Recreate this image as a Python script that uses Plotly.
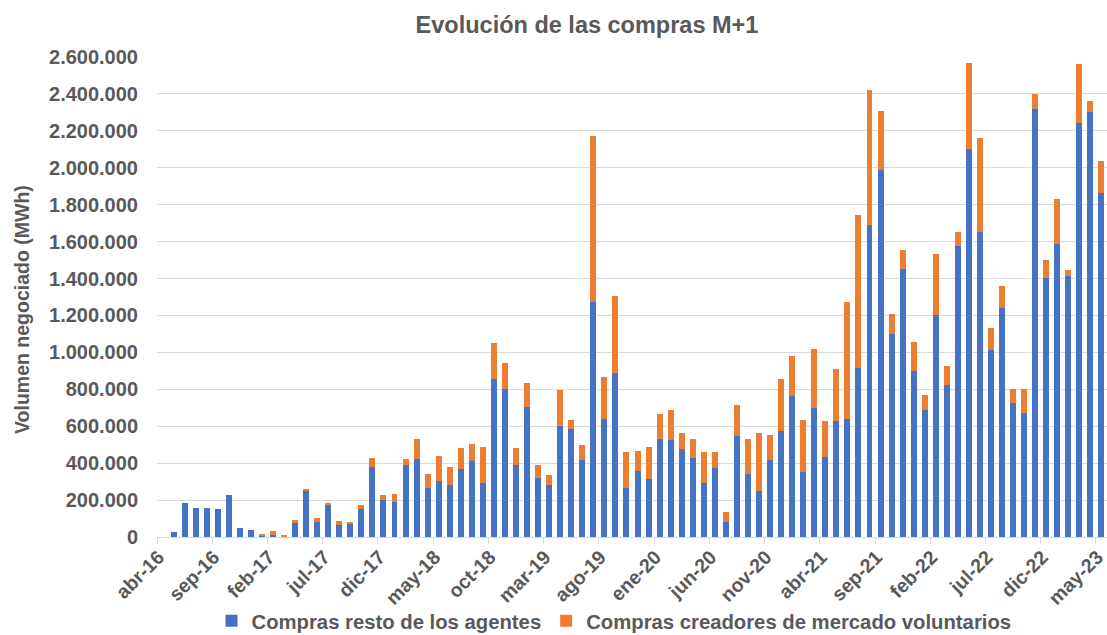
import plotly.graph_objects as go

categories = [
    "abr-16", "may-16", "jun-16", "jul-16", "ago-16", "sep-16", "oct-16", "nov-16", "dic-16",
    "ene-17", "feb-17", "mar-17", "abr-17", "may-17", "jun-17", "jul-17", "ago-17", "sep-17", "oct-17", "nov-17", "dic-17",
    "ene-18", "feb-18", "mar-18", "abr-18", "may-18", "jun-18", "jul-18", "ago-18", "sep-18", "oct-18", "nov-18", "dic-18",
    "ene-19", "feb-19", "mar-19", "abr-19", "may-19", "jun-19", "jul-19", "ago-19", "sep-19", "oct-19", "nov-19", "dic-19",
    "ene-20", "feb-20", "mar-20", "abr-20", "may-20", "jun-20", "jul-20", "ago-20", "sep-20", "oct-20", "nov-20", "dic-20",
    "ene-21", "feb-21", "mar-21", "abr-21", "may-21", "jun-21", "jul-21", "ago-21", "sep-21", "oct-21", "nov-21", "dic-21",
    "ene-22", "feb-22", "mar-22", "abr-22", "may-22", "jun-22", "jul-22", "ago-22", "sep-22", "oct-22", "nov-22", "dic-22",
    "ene-23", "feb-23", "mar-23", "abr-23", "may-23",
]

resto_agentes = [
    0, 29000, 182000, 159000, 155000, 152000, 229000, 51000, 38000,
    9000, 13000, 0, 74000, 253000, 80000, 177000, 67000, 74000, 150000, 378000, 199000,
    192000, 390000, 425000, 266000, 304000, 280000, 370000, 410000, 293000, 855000, 800000, 388000,
    705000, 322000, 280000, 600000, 584000, 419000, 1272000, 639000, 886000, 267000, 355000, 312000,
    529000, 524000, 475000, 426000, 293000, 374000, 79000, 546000, 340000, 251000, 416000, 576000,
    762000, 352000, 697000, 432000, 627000, 638000, 916000, 1691000, 1987000, 1099000, 1449000, 897000,
    690000, 1200000, 821000, 1574000, 2101000, 1650000, 1011000, 1238000, 724000, 673000, 2316000, 1402000,
    1585000, 1412000, 2242000, 2300000, 1866000,
]

creadores_mercado = [
    0, 0, 0, 0, 0, 0, 0, 0, 0,
    7000, 17000, 6000, 16000, 7000, 21000, 4000, 20000, 7000, 23000, 48000, 27000,
    41000, 31000, 106000, 77000, 137000, 98000, 112000, 96000, 197000, 195000, 143000, 96000,
    128000, 66000, 54000, 197000, 52000, 80000, 902000, 228000, 422000, 193000, 112000, 178000,
    138000, 166000, 87000, 107000, 170000, 87000, 58000, 169000, 193000, 313000, 135000, 279000,
    217000, 282000, 320000, 199000, 284000, 636000, 830000, 729000, 320000, 107000, 105000, 159000,
    77000, 334000, 103000, 79000, 467000, 512000, 119000, 123000, 77000, 128000, 81000, 96000,
    247000, 36000, 319000, 61000, 172000,
]

tick_labels = ["abr-16", "sep-16", "feb-17", "jul-17", "dic-17", "may-18", "oct-18", "mar-19",
               "ago-19", "ene-20", "jun-20", "nov-20", "abr-21", "sep-21", "feb-22", "jul-22",
               "dic-22", "may-23"]

y_ticks = [0, 200000, 400000, 600000, 800000, 1000000, 1200000, 1400000, 1600000,
           1800000, 2000000, 2200000, 2400000, 2600000]

idx = list(range(len(categories)))
tick_pos = [categories.index(t) for t in tick_labels]
boundaries = [p - 0.5 for p in tick_pos]

TXT = "#595959"
FONT = "Liberation Sans, Arial, sans-serif"

fig = go.Figure()
fig.add_trace(go.Bar(
    x=idx, y=resto_agentes, name="Compras resto de los agentes",
    marker=dict(color="#4472C4", line=dict(width=0)),
    customdata=categories, hovertemplate="%{customdata}: %{y}<extra></extra>",
))
fig.add_trace(go.Bar(
    x=idx, y=creadores_mercado, name="Compras creadores de mercado voluntarios",
    marker=dict(color="#ED7D31", line=dict(width=0)),
    customdata=categories, hovertemplate="%{customdata}: %{y}<extra></extra>",
))

fig.update_layout(
    barmode="stack",
    bargap=0.46,
    width=1107, height=635,
    margin=dict(l=157, r=0, t=57, b=98, autoexpand=False),
    paper_bgcolor="white", plot_bgcolor="white",
    separators=",.",
    font=dict(family=FONT, color=TXT, size=20),
    title=dict(
        text="Evolución de las compras M+1",
        font=dict(family=FONT, size=23.5, color=TXT, weight="bold"),
        x=587 / 1107, xref="container", xanchor="center",
        y=1 - 25 / 635, yref="container", yanchor="middle",
    ),
    showlegend=True,
    legend=dict(
        orientation="h",
        x=(614 - 157) / 950, xanchor="center",
        y=(537 - 621) / 480, yanchor="middle",
        font=dict(family=FONT, size=20.3, color=TXT, weight="bold"),
        traceorder="normal",
        itemwidth=30,
        bgcolor="rgba(0,0,0,0)",
    ),
    xaxis=dict(
        range=[-0.5, 85.5],
        automargin=False,
        tickmode="array", tickvals=tick_pos, ticktext=tick_labels,
        tickangle=-45,
        ticklabeloverflow="allow",
        ticklabelshift=-4,
        tickfont=dict(family=FONT, size=19.5, color=TXT, weight="bold"),
        ticks="", showgrid=False, zeroline=False,
        showline=True, linecolor="#D9D9D9", linewidth=1,
        minor=dict(tickmode="array", tickvals=boundaries, ticks="outside",
                   ticklen=6, tickcolor="#D9D9D9", showgrid=False),
    ),
    yaxis=dict(
        range=[0, 2600000],
        automargin=False,
        tickmode="array", tickvals=y_ticks,
        tickformat=",.0f",
        ticklabelstandoff=18,
        tickfont=dict(family=FONT, size=20, color=TXT, weight="bold"),
        showgrid=True, gridcolor="#D9D9D9", gridwidth=1,
        zeroline=False, showline=False, ticks="",
    ),
    annotations=[dict(
        text="Volumen negociado (MWh)",
        xref="paper", yref="paper",
        x=(22 - 157) / 950, y=(537 - 310) / 480,
        xanchor="center", yanchor="middle",
        textangle=-90, showarrow=False,
        font=dict(family=FONT, size=19.5, color=TXT, weight="bold"),
    )],
)

fig.write_html(
    "out.html",
    config={"displayModeBar": False},
    post_script="document.body.style.margin='0';document.body.style.overflow='hidden';",
)
